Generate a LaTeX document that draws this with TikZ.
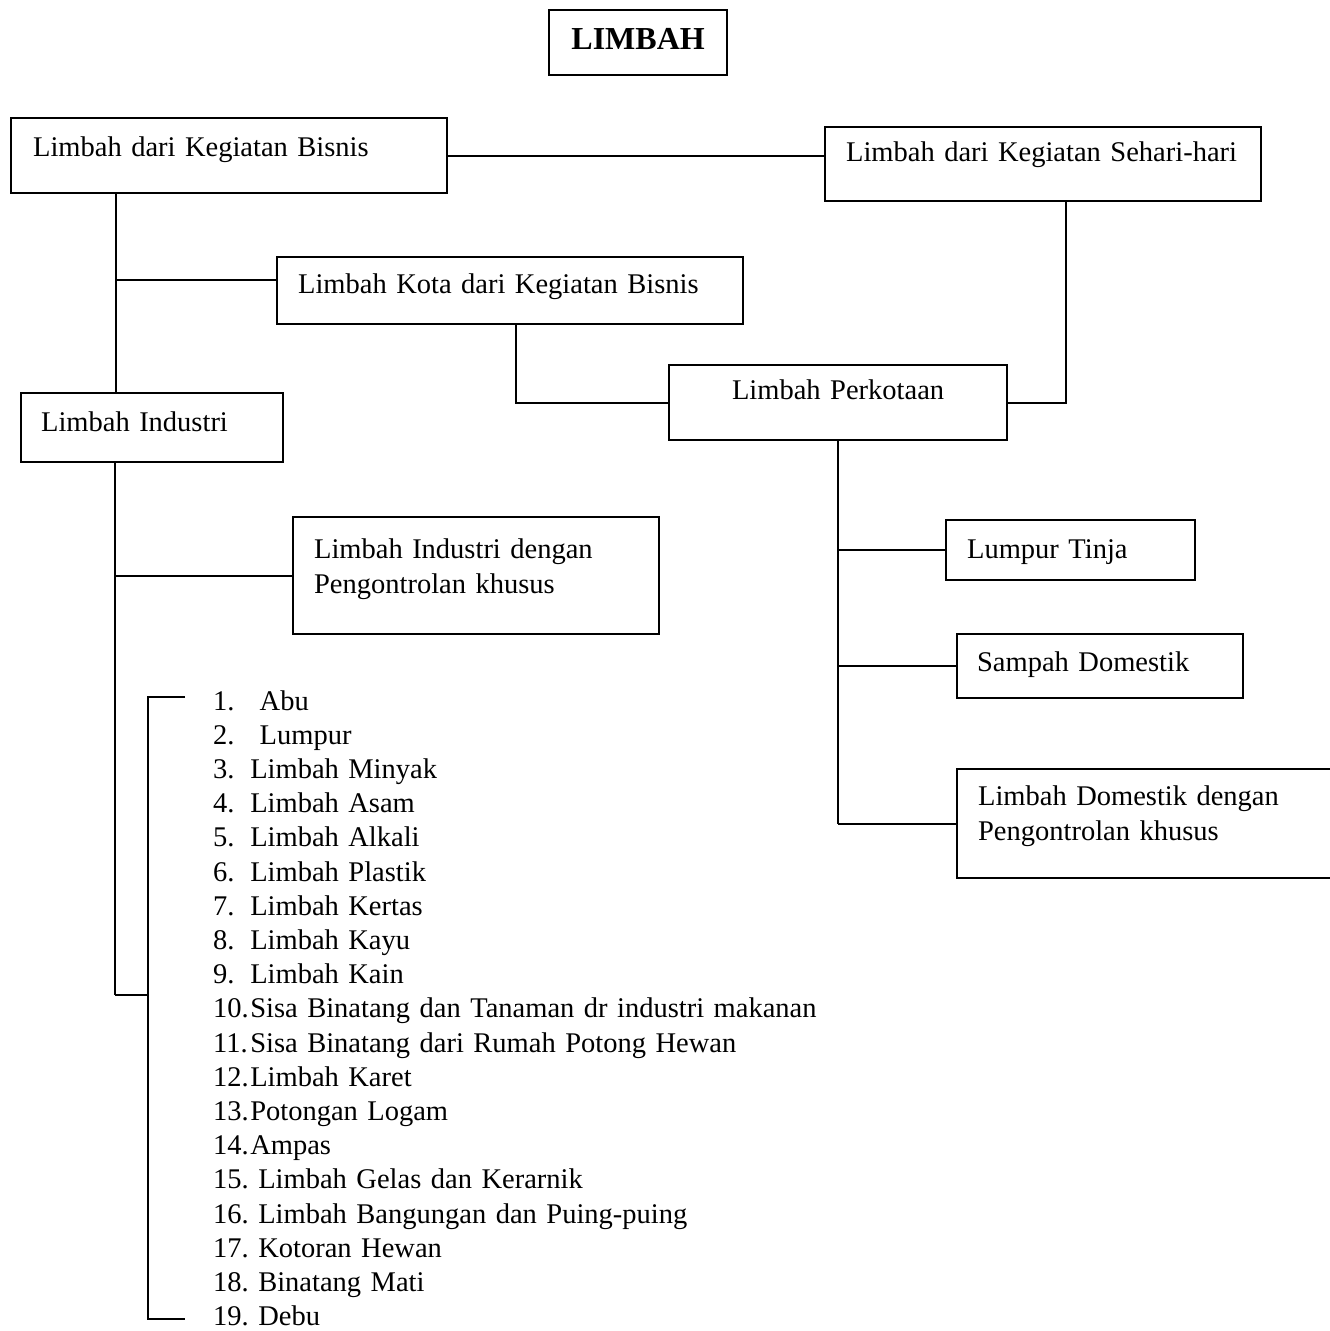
\documentclass[tikz,border=0pt]{standalone}
\usepackage{fontspec}
\setmainfont{Liberation Serif}

\begin{document}
\begin{tikzpicture}[x=1pt, y=-1pt, font=\fontsize{28.5}{35}\selectfont\frenchspacing]
\useasboundingbox (0,0) rectangle (1330,1331);
\clip (0,0) rectangle (1330,1331);

% kotak-kotak
\begin{scope}[every node/.style={shape=rectangle,
    draw, line width=2.2pt, anchor=north west,
    align=left, inner ysep=0pt}]
    \node[text width=178pt, inner xsep=0pt, align=center, text height=39pt, text depth=26pt, font=\fontsize{32}{35}\selectfont\bfseries] (limbah) at (548,9) {LIMBAH};
    \node[text width=392pt, inner xsep=22pt, text height=38pt, text depth=37pt] (bis) at (10,117) {Limbah dari Kegiatan Bisnis};
    \node[text width=394pt, inner xsep=21pt, text height=34pt, text depth=40pt] (hari) at (824,126) {\mbox{Limbah dari Kegiatan Sehari-hari}};
    \node[text width=424pt, inner xsep=21pt, text height=36pt, text depth=31pt] (kota) at (276,256) {Limbah Kota dari Kegiatan Bisnis};
    \node[text width=338pt, inner xsep=0pt, align=center, text height=34pt, text depth=41pt] (kotaan) at (668,364) {Limbah Perkotaan};
    \node[text width=222pt, inner xsep=20pt, text height=38pt, text depth=31pt] (ind) at (20,392) {Limbah Industri};
    \node[text width=324pt, inner xsep=21pt, text height=41pt, text depth=76pt] (indk) at (292,516) {Limbah Industri dengan\\ Pengontrolan khusus};
    \node[text width=207pt, inner xsep=21pt, text height=38pt, text depth=22pt] (tinja) at (945,519) {Lumpur Tinja};
    \node[text width=246pt, inner xsep=20pt, text height=37pt, text depth=27pt] (sampah) at (956,633) {Sampah Domestik};
    \node[text width=348pt, inner xsep=21pt, text height=36pt, text depth=73pt] (domk) at (956,768) {Limbah Domestik dengan\\ Pengontrolan khusus};
\end{scope}

% daftar limbah industri
\node[anchor=base west, text width=640pt, align=left, inner sep=0pt,
      font=\fontsize{28.5}{34.2}\selectfont\frenchspacing] (jenis) at (213,710) {%
    \makebox[1.3em][l]{1.} Abu\\
    \makebox[1.3em][l]{2.} Lumpur\\
    \makebox[1.3em][l]{3.}Limbah Minyak\\
    \makebox[1.3em][l]{4.}Limbah Asam\\
    \makebox[1.3em][l]{5.}Limbah Alkali\\
    \makebox[1.3em][l]{6.}Limbah Plastik\\
    \makebox[1.3em][l]{7.}Limbah Kertas\\
    \makebox[1.3em][l]{8.}Limbah Kayu\\
    \makebox[1.3em][l]{9.}Limbah Kain\\
    \makebox[1.3em][l]{10.}Sisa Binatang dan Tanaman dr industri makanan\\
    \makebox[1.3em][l]{11.}Sisa Binatang dari Rumah Potong Hewan\\
    \makebox[1.3em][l]{12.}Limbah Karet\\
    \makebox[1.3em][l]{13.}Potongan Logam\\
    \makebox[1.3em][l]{14.}Ampas\\
    15. Limbah Gelas dan Kerarnik\\
    16. Limbah Bangungan dan Puing-puing\\
    17. Kotoran Hewan\\
    18. Binatang Mati\\
    19. Debu};

\coordinate (s1) at (116,280);
\coordinate (s2) at (516,401);
\coordinate (s3) at (1066,399);
\coordinate (s4) at (115,995);
\coordinate (brk) at (148,995);
\coordinate (b1) at (185,697);
\coordinate (b2) at (185,1319);

\begin{scope}[line width=1.8pt]
    \draw (bis.east) -- (bis.east -| hari.west);
    \draw (bis.south -| s1) -- (ind.north -| s1);
    \draw (s1) -- (s1 -| kota.west);
    \draw (kota.south -| s2) |- (kotaan.west);
    \draw (hari.south -| s3) |- (kotaan.east);
    \draw (ind.south -| s4) -- (s4);
    \draw (indk.west -| s4) -- (indk.west);
    \draw (s4) -- (brk);
    \draw (b1) -| (brk) |- (b2);
    \draw (kotaan.south) -- (kotaan.south |- domk.west);
    \draw (kotaan.south |- tinja.west) -- (tinja.west);
    \draw (kotaan.south |- sampah.west) -- (sampah.west);
    \draw (kotaan.south |- domk.west) -- (domk.west);
\end{scope}
\end{tikzpicture}
\end{document}
